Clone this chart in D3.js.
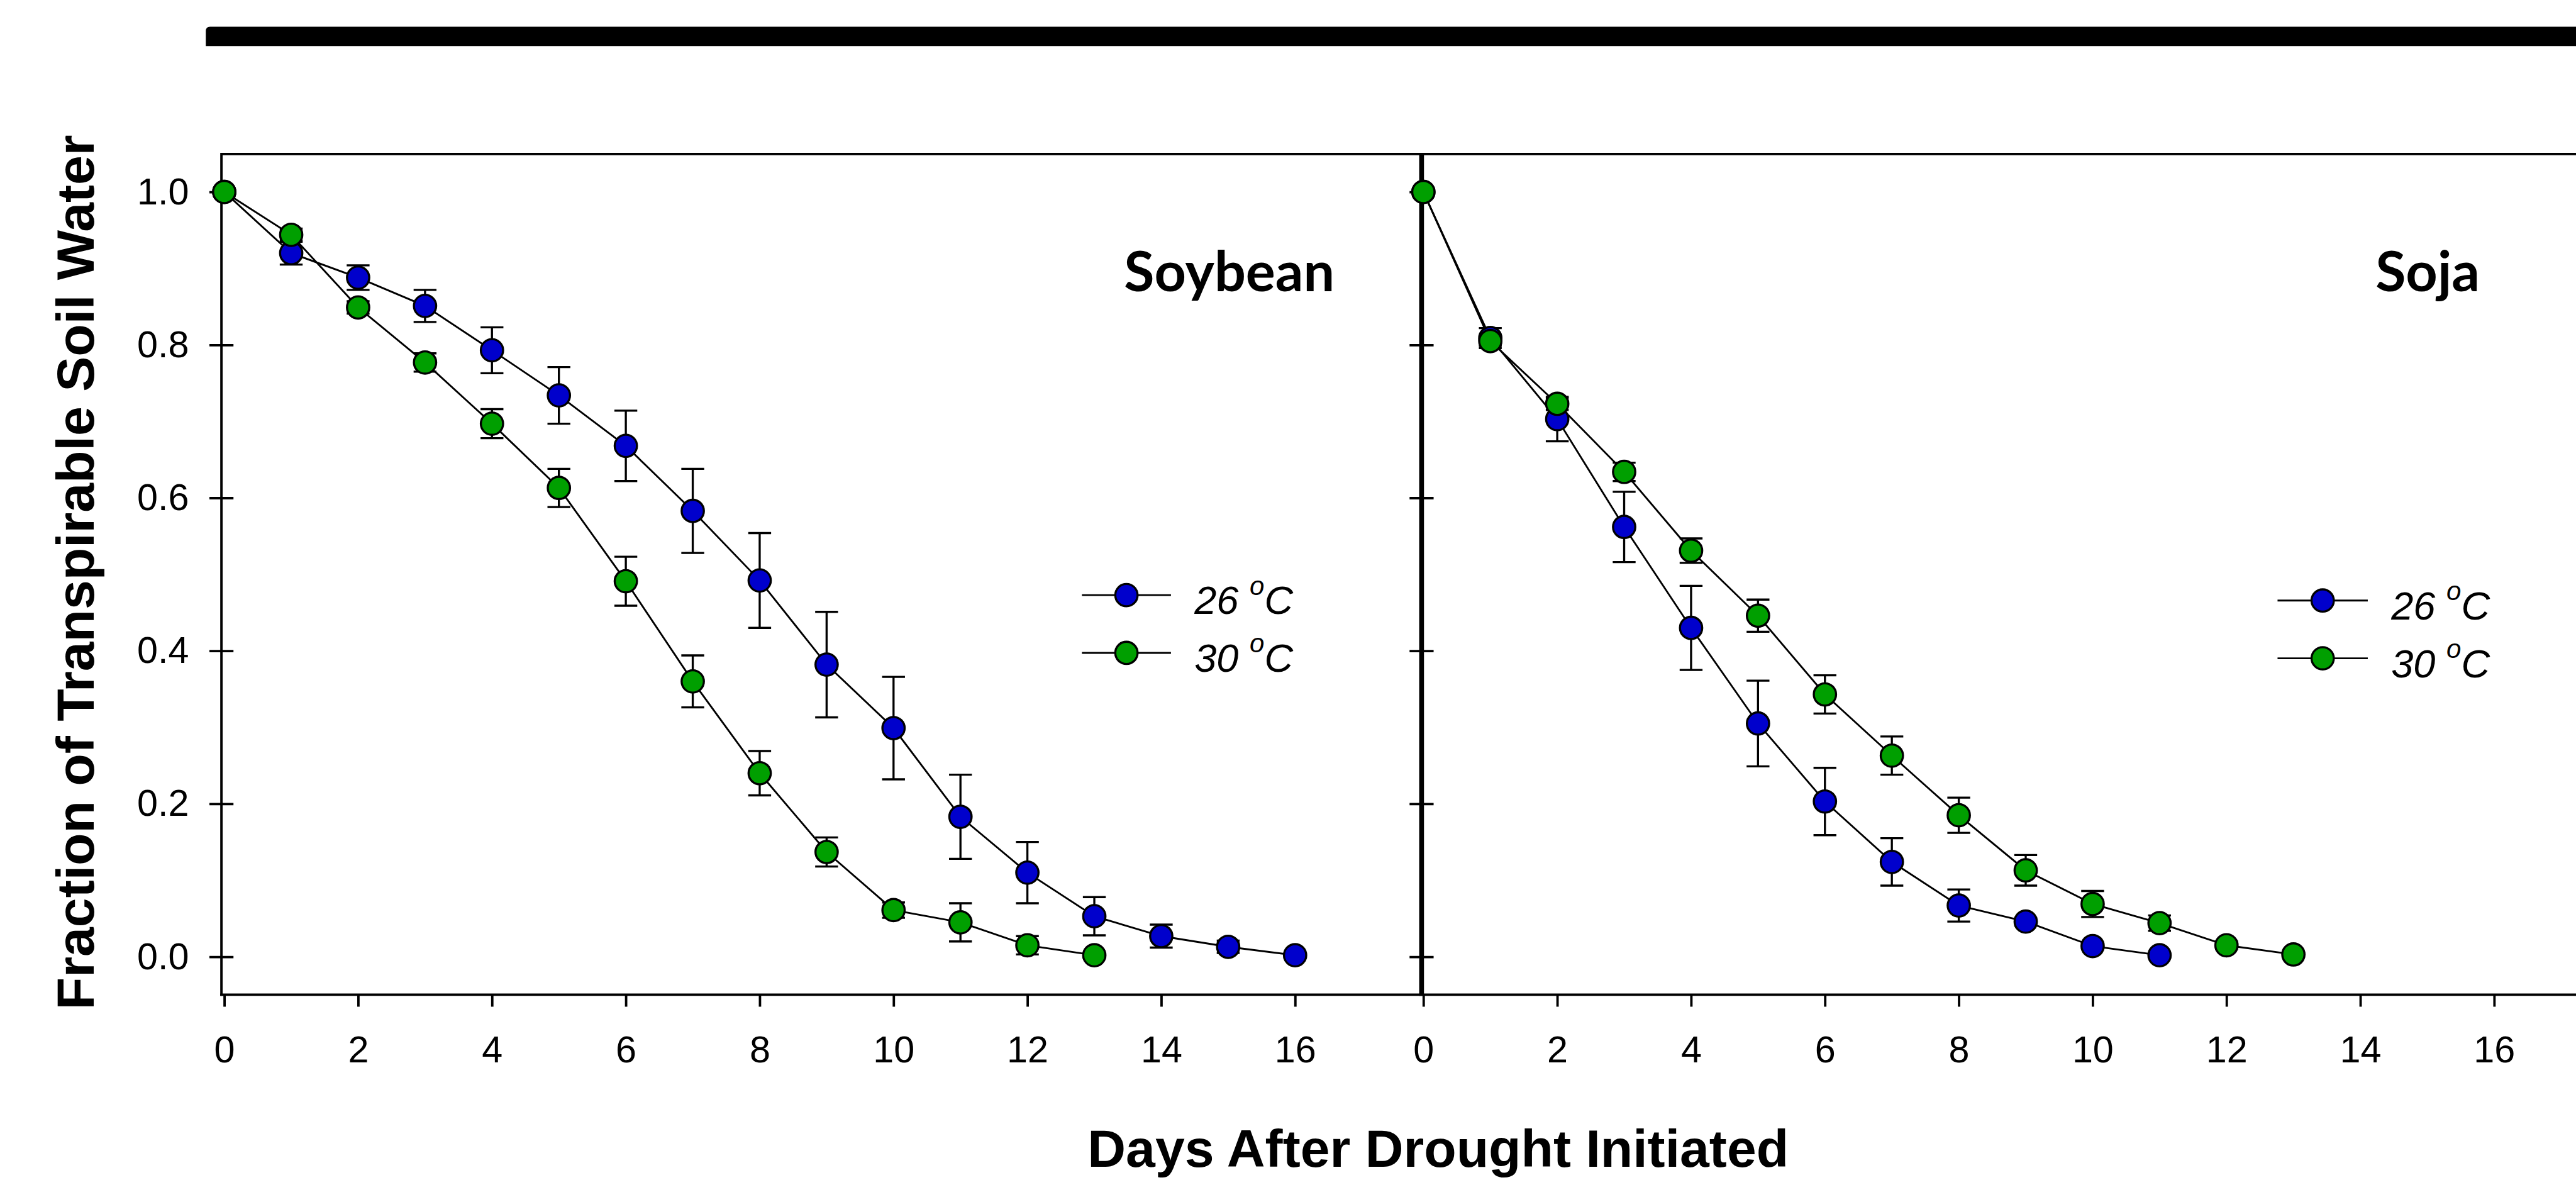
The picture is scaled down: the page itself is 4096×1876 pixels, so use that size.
<!DOCTYPE html>
<html>
<head>
<meta charset="utf-8">
<script src="https://cdn.jsdelivr.net/npm/d3@7"></script>
<style>
  html, body { margin: 0; padding: 0; background: #ffffff; }
  svg { display: block; }
</style>
</head>
<body>
<script>
// ---------------- DATA ----------------
const xTicks = [0, 2, 4, 6, 8, 10, 12, 14, 16];
const yTicks = [0.0, 0.2, 0.4, 0.6, 0.8, 1.0];
const seriesNames = ["26", "30"];
const panelTitles = ["Soybean", "Soja"];

// Soybean panel
const soyDays26 = [0, 1, 2, 3, 4, 5, 6, 7, 8, 9, 10, 11, 12, 13, 14, 15, 16];
const soyFTSW26 = [1.0, 0.920, 0.888, 0.851, 0.793, 0.734, 0.668, 0.583, 0.492, 0.382, 0.299, 0.183, 0.110, 0.053, 0.027, 0.013, 0.002];
const soyErr26  = [0, 0.015, 0.016, 0.021, 0.030, 0.037, 0.046, 0.055, 0.062, 0.069, 0.067, 0.055, 0.040, 0.025, 0.015, 0.008, 0];
const soyDays30 = [0, 1, 2, 3, 4, 5, 6, 7, 8, 9, 10, 11, 12, 13];
const soyFTSW30 = [1.0, 0.944, 0.849, 0.777, 0.697, 0.613, 0.491, 0.360, 0.240, 0.137, 0.061, 0.045, 0.015, 0.002];
const soyErr30  = [0, 0.008, 0.008, 0.012, 0.019, 0.025, 0.032, 0.034, 0.029, 0.019, 0.010, 0.025, 0.012, 0];

// Soja panel
const sojaDays26 = [0, 1, 2, 3, 4, 5, 6, 7, 8, 9, 10, 11];
const sojaFTSW26 = [1.0, 0.809, 0.703, 0.562, 0.430, 0.305, 0.203, 0.124, 0.067, 0.046, 0.014, 0.002];
const sojaErr26  = [0, 0.013, 0.029, 0.046, 0.055, 0.056, 0.044, 0.031, 0.021, 0.005, 0, 0];
const sojaDays30 = [0, 1, 2, 3, 4, 5, 6, 7, 8, 9, 10, 11, 12, 13];
const sojaFTSW30 = [1.0, 0.805, 0.723, 0.634, 0.531, 0.446, 0.343, 0.263, 0.185, 0.113, 0.069, 0.044, 0.015, 0.003];
const sojaErr30  = [0, 0.006, 0.008, 0.012, 0.016, 0.021, 0.025, 0.025, 0.023, 0.020, 0.017, 0.010, 0.005, 0];

// ---------------- LAYOUT ----------------
const W = 4281, H = 1961;
const colors = { "26": "#0000cc", "30": "#009f00" };
const frameTop = 256, frameBottom = 1653, frameLeft = 368;

const svg = d3.select("body").append("svg")
  .attr("width", 4096).attr("height", 1876)
  .attr("viewBox", `0 0 ${W} ${H}`)
  .attr("preserveAspectRatio", "none");

svg.append("rect").attr("width", W).attr("height", H).attr("fill", "#fff");

// top thick bar
svg.append("path")
  .attr("d", `M342,52 Q342,44.5 349,44.5 L${W},44.5 L${W},76.5 L342,76.5 Z`)
  .attr("fill", "#000");

const y = d3.scaleLinear().domain([0, 1]).range([1590, 319]);

const panels = [
  { title: panelTitles[0], x: d3.scaleLinear().domain([0, 16]).range([372.7, 2152.3]),
    axisX: 368, axisW: 4, labels: true, titleX: 2218,
    legend: { x1: 1798, x2: 1946, cy: 989, tx: 1985 },
    series: [
      { name: "26", days: soyDays26, v: soyFTSW26, e: soyErr26 },
      { name: "30", days: soyDays30, v: soyFTSW30, e: soyErr30 } ] },
  { title: panelTitles[1], x: d3.scaleLinear().domain([0, 16]).range([2365.5, 4145]),
    axisX: 2362.5, axisW: 8, labels: false, titleX: 4121,
    legend: { x1: 3785, x2: 3935, cy: 998, tx: 3974 },
    series: [
      { name: "26", days: sojaDays26, v: sojaFTSW26, e: sojaErr26 },
      { name: "30", days: sojaDays30, v: sojaFTSW30, e: sojaErr30 } ] }
];

// frame top & bottom lines
svg.append("line").attr("x1", frameLeft).attr("x2", W).attr("y1", frameTop).attr("y2", frameTop)
  .attr("stroke", "#000").attr("stroke-width", 4);
svg.append("line").attr("x1", frameLeft - 2).attr("x2", W).attr("y1", frameBottom).attr("y2", frameBottom)
  .attr("stroke", "#000").attr("stroke-width", 4);

panels.forEach(p => {
  const g = svg.append("g");
  // left axis line
  g.append("line").attr("x1", p.axisX).attr("x2", p.axisX)
    .attr("y1", frameTop - 2).attr("y2", frameBottom + 2)
    .attr("stroke", "#000").attr("stroke-width", p.axisW);

  // y axis
  const ya = g.append("g").attr("transform", `translate(${p.axisX},0)`)
    .call(d3.axisLeft(y).tickValues(yTicks).tickSize(20).tickPadding(34)
      .tickFormat(p.labels ? d3.format(".1f") : () => ""));
  ya.select(".domain").remove();
  ya.selectAll(".tick line").attr("x1", -20).attr("x2", 20)
    .attr("stroke", "#000").attr("stroke-width", 4);
  ya.selectAll(".tick text").attr("font-family", "'Liberation Sans', Arial, sans-serif")
    .attr("font-size", 62).attr("fill", "#000");

  // x axis
  const xa = g.append("g").attr("transform", `translate(0,${frameBottom})`)
    .call(d3.axisBottom(p.x).tickValues(xTicks).tickSize(20).tickPadding(49)
      .tickFormat(d3.format("d")));
  xa.select(".domain").remove();
  xa.selectAll(".tick line").attr("stroke", "#000").attr("stroke-width", 4);
  xa.selectAll(".tick text").attr("font-family", "'Liberation Sans', Arial, sans-serif")
    .attr("font-size", 62).attr("fill", "#000");

  // error bars
  p.series.forEach(s => {
    const eg = g.append("g");
    s.days.forEach((d, i) => {
      if (!s.e[i]) return;
      const cx = p.x(d), yt = y(s.v[i] + s.e[i]), yb = y(s.v[i] - s.e[i]);
      eg.append("line").attr("x1", cx).attr("x2", cx).attr("y1", yt).attr("y2", yb)
        .attr("stroke", "#000").attr("stroke-width", 3.5);
      [yt, yb].forEach(yy => eg.append("line").attr("x1", cx - 19).attr("x2", cx + 19)
        .attr("y1", yy).attr("y2", yy).attr("stroke", "#000").attr("stroke-width", 3.5));
    });
  });

  // lines and markers
  p.series.forEach(s => {
    const pts = s.days.map((d, i) => [d, s.v[i]]);
    g.append("path").datum(pts)
      .attr("d", d3.line().x(d => p.x(d[0])).y(d => y(d[1])))
      .attr("fill", "none").attr("stroke", "#000").attr("stroke-width", 3);
  });
  p.series.forEach(s => {
    g.append("g").selectAll("circle").data(s.days.map((d, i) => [d, s.v[i]]))
      .join("circle")
      .attr("cx", d => p.x(d[0])).attr("cy", d => y(d[1])).attr("r", 18.5)
      .attr("fill", colors[s.name]).attr("stroke", "#000").attr("stroke-width", 3.5);
  });

  // panel title
  g.append("text").attr("x", p.titleX).attr("y", 484).attr("text-anchor", "end")
    .attr("font-family", "Lato, 'Open Sans', sans-serif").attr("font-weight", 700)
    .attr("font-size", 92).attr("fill", "#000").text(p.title);

  // legend
  seriesNames.forEach((n, k) => {
    const cy = p.legend.cy + k * 96;
    g.append("line").attr("x1", p.legend.x1).attr("x2", p.legend.x2)
      .attr("y1", cy).attr("y2", cy).attr("stroke", "#000").attr("stroke-width", 3);
    g.append("circle").attr("cx", (p.legend.x1 + p.legend.x2) / 2).attr("cy", cy).attr("r", 18.5)
      .attr("fill", colors[n]).attr("stroke", "#000").attr("stroke-width", 3.5);
    const t = g.append("text").attr("x", p.legend.tx).attr("y", cy + 31.5)
      .attr("font-family", "'Liberation Sans', Arial, sans-serif").attr("font-style", "italic")
      .attr("font-size", 66).attr("fill", "#000");
    t.append("tspan").text(n + " ");
    t.append("tspan").attr("font-size", 44).attr("dy", -32).text("o");
    t.append("tspan").attr("dy", 32).text("C");
  });
});

// axis titles
svg.append("text").attr("x", 2390).attr("y", 1939).attr("text-anchor", "middle")
  .attr("font-family", "'Liberation Sans', Arial, sans-serif").attr("font-weight", 700)
  .attr("font-size", 88).attr("fill", "#000").text("Days After Drought Initiated");

svg.append("text").attr("transform", "translate(156,951) rotate(-90)").attr("text-anchor", "middle")
  .attr("font-family", "'Liberation Sans', Arial, sans-serif").attr("font-weight", 700)
  .attr("font-size", 88).attr("fill", "#000").text("Fraction of Transpirable Soil Water");
</script>
</body>
</html>
